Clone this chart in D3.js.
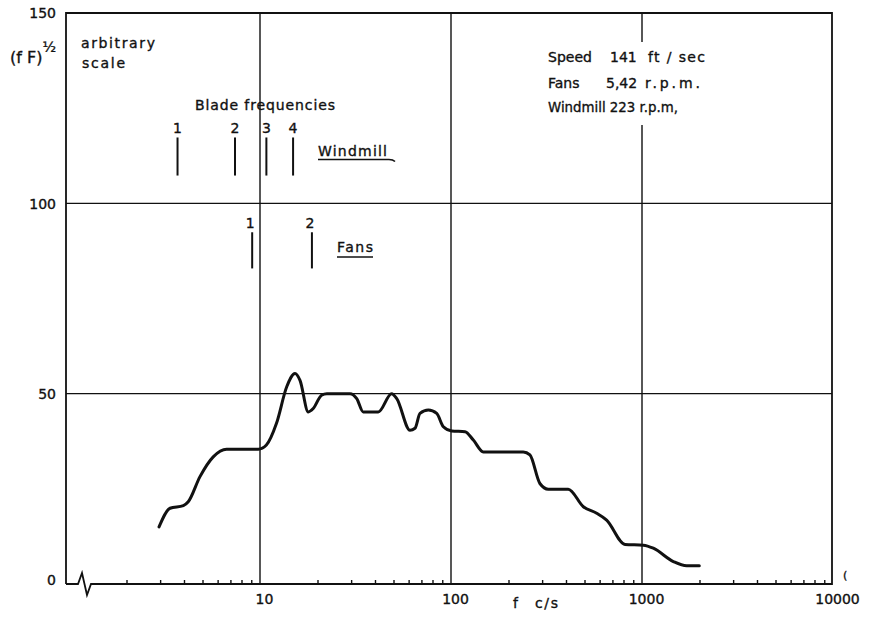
<!DOCTYPE html>
<html>
<head>
<meta charset="utf-8">
<script src="https://cdn.jsdelivr.net/npm/d3@7"></script>
<style>
  html, body { margin: 0; padding: 0; background: #fff; }
  svg { display: block; }
  text { font-family: "DejaVu Sans", sans-serif; fill: #111; stroke: #111; stroke-width: 0.35px; }
</style>
</head>
<body>
<svg id="chart" width="880" height="622"></svg>
<script>
// Spectrum of (fF)^1/2 against frequency (c/s), arbitrary scale
const freqs = [2.96, 3.38, 3.97, 4.21, 4.85, 5.69, 6.69, 7.86, 9.8, 10.8, 12.2, 13.8, 15.25, 16.2,
  17.9, 19.0, 21.0, 22.4, 29.6, 32.1, 34.7, 41.6, 48.9, 52.0, 61.0, 64.8, 68.8, 76.1, 84.2, 91.2,
  100.9, 118.4, 130.9, 147.6, 239, 259, 292, 323, 411, 493, 579, 653, 815, 1016, 1146, 1459, 1714, 1995];
const values = [15.0, 19.9, 20.6, 21.6, 28.2, 33.4, 35.4, 35.4, 35.4, 36.5, 42.2, 51.8, 55.3, 53.5,
  45.2, 46.1, 49.6, 50.0, 50.0, 48.7, 45.2, 45.2, 50.0, 48.7, 40.4, 40.9, 44.8, 45.7, 44.8, 41.3,
  40.2, 40.0, 37.8, 34.7, 34.7, 33.9, 26.4, 24.9, 24.9, 20.3, 18.6, 16.8, 10.4, 10.2, 9.4, 5.9, 4.8, 4.8];

// Blade passing frequencies (c/s)
const windmillBlades = [3.7, 7.4, 10.8, 14.9];
const windmillLabels = ["1", "2", "3", "4"];
const fanBlades = [9.1, 18.7];
const fanLabels = ["1", "2"];

// Axis ticks
const xMajorTicks = [10, 100, 1000, 10000];
const yTicks = [0, 50, 100, 150];
const xGrid = [10, 100, 1000];
const yGrid = [50, 100];

const svg = d3.select("#chart");
const L = 66, R = 832, T = 13, B = 584;

const x = d3.scaleLog().domain([1, 10000]).range([69, 833]);
const y = d3.scaleLinear().domain([0, 150]).range([B, T]);

const ink = "#111";

// Grid lines (the 1000 c/s line is interrupted by the run conditions)
const legendGap = [42, 125];
svg.append("g").selectAll("path").data(xGrid).join("path")
  .attr("d", d => {
    const px = x(d);
    if (d === 1000) return `M${px},${B}V${legendGap[1]}M${px},${legendGap[0]}V${T}`;
    return `M${px},${B}V${T}`;
  })
  .attr("stroke", ink).attr("stroke-width", 1.4).attr("fill", "none");

svg.append("g").selectAll("line").data(yGrid).join("line")
  .attr("x1", L).attr("x2", R)
  .attr("y1", d => y(d)).attr("y2", d => y(d))
  .attr("stroke", ink).attr("stroke-width", 1.3);

// Frame (bottom axis with a break near the origin)
svg.append("path")
  .attr("d", `M${L},${B}V${T}H${R}V${B}H${L + 25}L${L + 21},${B + 11}L${L + 16},${B - 11}L${L + 12},${B}H${L}`)
  .attr("fill", "none").attr("stroke", ink).attr("stroke-width", 1.8).attr("stroke-linejoin", "miter");

// Minor log ticks (pointing into the plot)
const minorTicks = [];
[1, 10, 100, 1000].forEach(d => { for (let k = 2; k <= 9; k++) minorTicks.push(d * k); });
const minorAxis = svg.append("g").attr("transform", `translate(0,${B})`)
  .call(d3.axisBottom(x).tickValues(minorTicks).tickSize(-4).tickFormat(""));
minorAxis.select(".domain").remove();
minorAxis.selectAll("line").attr("stroke", ink).attr("stroke-width", 1.4);

// Major x labels
const xAxis = svg.append("g").attr("transform", `translate(0,${B})`)
  .call(d3.axisBottom(x).tickValues(xMajorTicks).tickSize(0).tickPadding(10)
    .tickFormat(d3.format("d")));
xAxis.select(".domain").remove();
xAxis.selectAll("text").attr("font-size", 14).attr("dx", 4)
  .style("font-family", "DejaVu Sans").attr("fill", ink);

// Y labels
const yAxis = svg.append("g").attr("transform", `translate(${L},0)`)
  .call(d3.axisLeft(y).tickValues(yTicks).tickSize(0).tickPadding(10));
yAxis.select(".domain").remove();
yAxis.selectAll("text").attr("font-size", 14)
  .style("font-family", "DejaVu Sans").attr("fill", ink)
  .attr("dy", d => d === 0 ? "0.05em" : "0.35em");

// Spectrum curve
const line = d3.line()
  .x(d => x(d[0]))
  .y(d => y(d[1]))
  .curve(d3.curveMonotoneX);
svg.append("path")
  .datum(freqs.map((f, i) => [f, values[i]]))
  .attr("d", line)
  .attr("fill", "none").attr("stroke", ink).attr("stroke-width", 3)
  .attr("stroke-linejoin", "round").attr("stroke-linecap", "round");

// Blade frequency markers
const wm = svg.append("g");
wm.selectAll("line").data(windmillBlades).join("line")
  .attr("x1", d => x(d)).attr("x2", d => x(d))
  .attr("y1", y(117.3)).attr("y2", y(107.3))
  .attr("stroke", ink).attr("stroke-width", 2);
wm.selectAll("text").data(windmillBlades).join("text")
  .attr("x", d => x(d)).attr("y", 133)
  .attr("text-anchor", "middle").attr("font-size", 14)
  .text((d, i) => windmillLabels[i]);

const fm = svg.append("g");
fm.selectAll("line").data(fanBlades).join("line")
  .attr("x1", d => x(d)).attr("x2", d => x(d))
  .attr("y1", y(92.4)).attr("y2", y(82.9))
  .attr("stroke", ink).attr("stroke-width", 2);
fm.selectAll("text").data(fanBlades).join("text")
  .attr("x", d => x(d) - 2).attr("y", 228)
  .attr("text-anchor", "middle").attr("font-size", 14)
  .text((d, i) => fanLabels[i]);

// Text annotations
function label(txt, px, py, size, len, adjust) {
  const t = svg.append("text").attr("x", px).attr("y", py).attr("font-size", size).text(txt);
  if (len) t.attr("textLength", len).attr("lengthAdjust", adjust || "spacing");
  return t;
}

const yl = svg.append("text").attr("x", 10).attr("y", 63).attr("font-size", 16);
yl.append("tspan").text("(f F)");
yl.append("tspan").attr("dy", -11).attr("font-size", 14).text("½");

label("arbitrary", 81, 48, 14, 74);
label("scale", 82, 68, 14, 43);
label("Blade frequencies", 195, 110, 14, 140);

label("Windmill", 318, 156, 14, 69);
svg.append("path").attr("d", "M318,159.5H389q4,0 6,2")
  .attr("fill", "none").attr("stroke", ink).attr("stroke-width", 1.6);
label("Fans", 337, 252, 14, 36);
svg.append("line").attr("x1", 337).attr("x2", 373).attr("y1", 257).attr("y2", 257)
  .attr("stroke", ink).attr("stroke-width", 1.6);

// Run conditions
label("Speed", 548, 62, 14);
label("141", 610, 62, 14);
label("ft / sec", 648, 62, 14, 57);
label("Fans", 548, 88, 14);
label("5,42", 606, 88, 14);
label("r.p.m.", 645, 88, 14, 55);
label("Windmill 223 r.p.m,", 548, 112, 14, 130, "spacingAndGlyphs");

label("f", 513, 608, 14);
label("c/s", 535, 608, 14, 23);
label("(", 843, 579, 11);
</script>
</body>
</html>
